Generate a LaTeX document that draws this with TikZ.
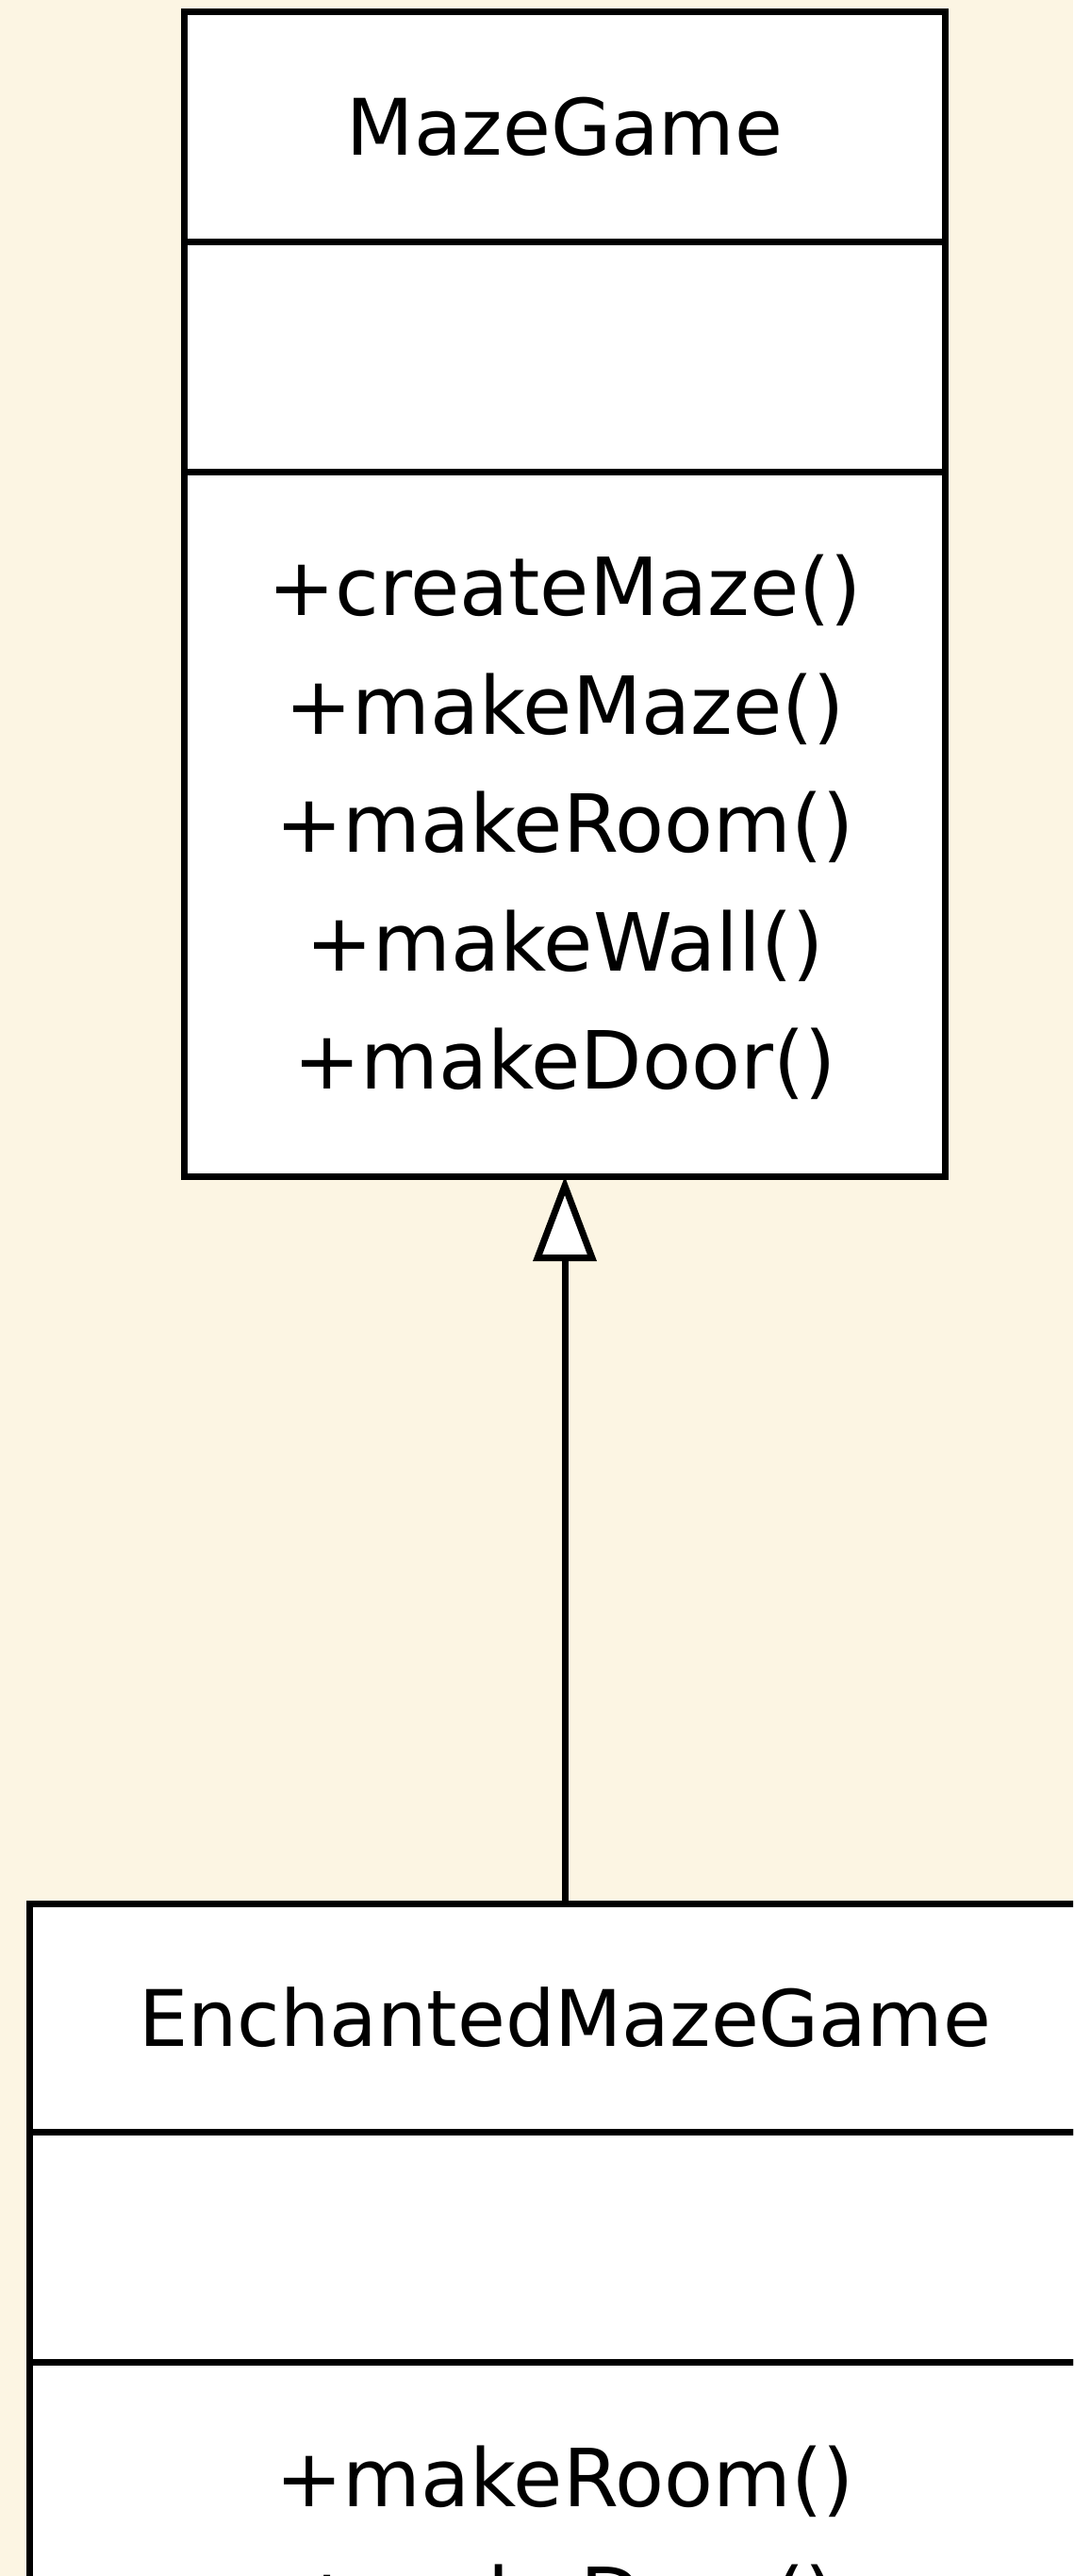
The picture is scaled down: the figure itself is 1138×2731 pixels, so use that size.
\documentclass[tikz,border=0pt]{standalone}
\usepackage{fontspec}
\setmainfont{DejaVu Sans}
\usetikzlibrary{arrows.meta}
\definecolor{paper}{HTML}{FCF5E3}
\begin{document}
\begin{tikzpicture}[x=1pt,y=-1pt,
  compartment/.style={draw=black, fill=white, line width=7pt, outer sep=0pt,
    inner sep=0pt, align=center, font=\fontsize{82.7}{100}\selectfont},
  members/.style={inner sep=0pt, align=center,
    font=\fontsize{85}{125.5}\selectfont},
  generalization/.style={line width=7pt,
    -{Triangle[length=90pt,width=66pt,fill=white,line width=7pt]}}]
  % page and clipping frame
  \useasboundingbox (0,0) rectangle (1138,2731);
  \fill[paper] (0,0) rectangle (1138,2731);
  \clip (0,0) rectangle (1138,2731);

  % class MazeGame
  \node[compartment, minimum width=807pt, minimum height=244pt] (mgName) at (599,134.5) {MazeGame};
  \node[compartment, minimum width=807pt, minimum height=243.5pt] (mgAttr) at (599,378.25) {};
  \node[compartment, minimum width=807pt, minimum height=747pt] (mgOps) at (599,873.5) {};
  \node[members] (mgOpsList) at (599,877)
    {+createMaze()\\+makeMaze()\\+makeRoom()\\+makeWall()\\+makeDoor()};

  % class EnchantedMazeGame
  \node[compartment, minimum width=1136pt, minimum height=242pt] (emName) at (599,2139) {EnchantedMazeGame};
  \node[compartment, minimum width=1136pt, minimum height=244pt] (emAttr) at (599,2382) {};
  \node[compartment, minimum width=1136pt, minimum height=380pt] (emOps) at (599,2694) {};
  \node[members] (emOpsList) at (599,2694) {+makeRoom()\\+makeDoor()};

  % inheritance
  \draw[generalization] (emName.north) -- (mgOps.south);
\end{tikzpicture}
\end{document}
